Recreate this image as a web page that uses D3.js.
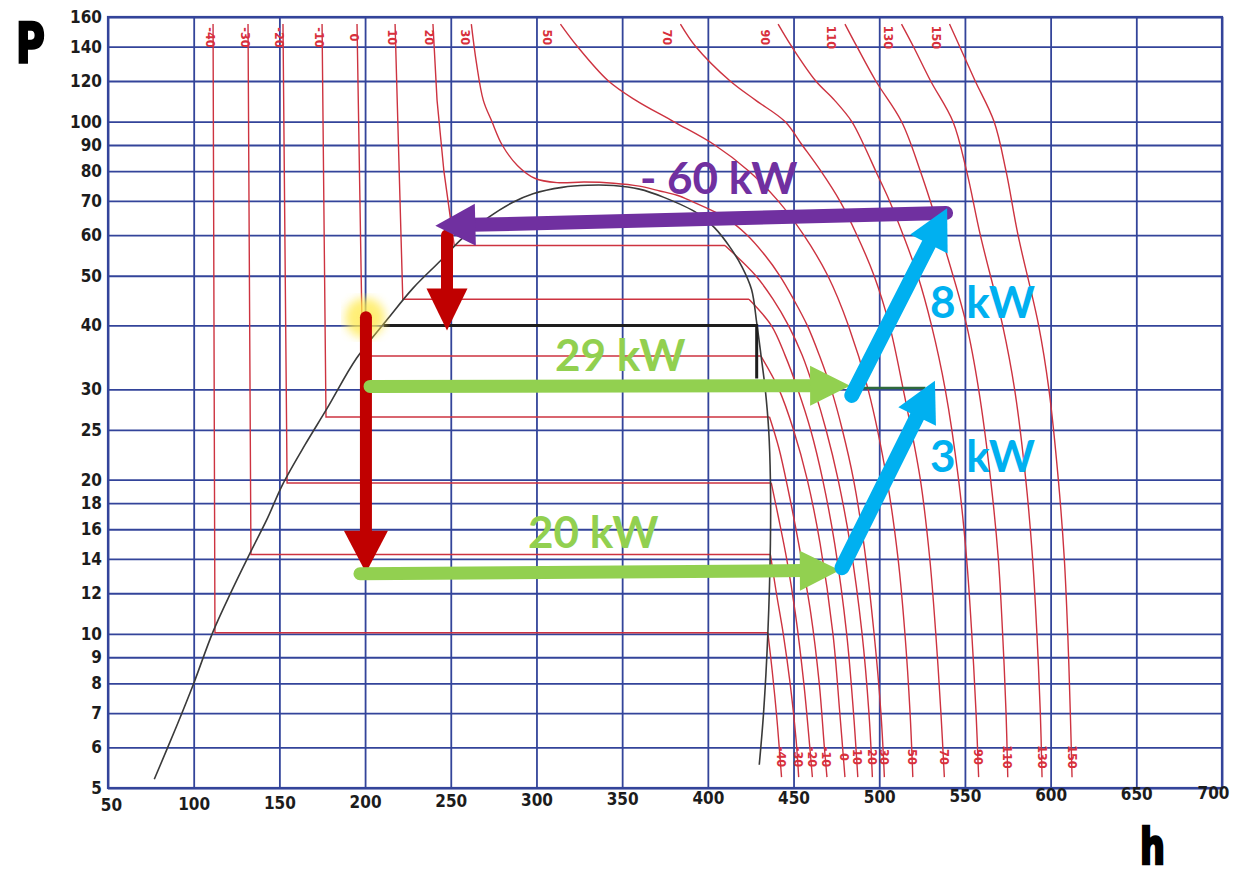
<!DOCTYPE html>
<html><head><meta charset="utf-8">
<script src="https://cdn.jsdelivr.net/npm/d3@7"></script>
<style>body{margin:0;background:#fff;} svg{display:block;}</style>
</head><body>
<svg id="chart" width="1236" height="878"></svg>
<script>
// ---------------- DATA ----------------
const hTicks = [50,100,150,200,250,300,350,400,450,500,550,600,650,700];
const pTicks = [5,6,7,8,9,10,12,14,16,18,20,25,30,40,50,60,70,80,90,100,120,140,160];
const tempLabels = ["-40","-30","-20","-10","0","10","20","30","50","70","90","110","130","150"];

// liquid + two-phase parts of isotherms [h, p]
const isoLiquid = [
  [[111.3,155],[112.4,10.05],[435,10.05]],
  [[131.7,155],[133.4,14.28],[436.5,14.28]],
  [[152.1,155],[154.5,19.7],[437,19.7]],
  [[174.9,155],[177.2,26.5],[436,26.5]],
  [[195.3,155],[198.5,34.85],[431,34.85]],
  [[217.5,155],[222,45],[424,45]],
  [[239.6,155],[242,110],[246,80],[252,57.3],[410,57.3]],
  [],[],[],[],[],[],[]
];
// superheated / supercritical parts of isotherms [h, p]
const isoVapor = [
  [[435,10.05],[437.5,8.5],[440,7],[442,5.8],[443,5.25]],
  [[436.5,14.28],[440,12],[444,10],[448,8],[451.5,6.2],[453,5.25]],
  [[437,19.7],[441,17],[446,14],[451,11],[456,8],[459.5,6],[461,5.25]],
  [[436,26.5],[441.5,23],[447,19],[453,15],[460,11],[465,8],[468,6],[469.5,5.25]],
  [[431,34.85],[441.5,30],[450,25],[458,20],[465.5,15],[473,10],[477,7],[480,5.25]],
  [[424,45],[437,40],[445,35],[452.5,30],[460,25],[467,20],[474,15],[481,10],[485,7],[487.5,5.25]],
  [[410,57.3],[428,50],[438,45],[447,40],[455,35],[462,30],[469,25],[476,20],[483,15],[490,10],[494,7],[496,5.25]],
  [[262,155],[265,130],[269,110],[274,100],[280,90],[289,82],[299,77.5],[312,76],[328,76.2],[345,75.8],[360,74.8],[372,73.2],[382,71.8],[390,70],[410,65],[423,60],[433,55],[442,50],[450,45],[458,40],[465,35],[472,30],[478.5,25],[485,20],[491,15],[497,10],[501,7],[503,5.25]],
  [[314,155],[324,140],[342,120],[358,110],[380,100],[404,90],[424,80],[441,70],[456,60],[470,50],[482,40],[493.5,30],[504.5,20],[511,14],[515,10],[518,7],[519.6,5.25]],
  [[384,155],[393,140],[413,120],[428,110],[445,100],[455,90],[466,80],[477,70],[487,60],[497,50],[506,40],[514,30],[524,20],[529.5,14],[533,10],[536,7],[538,5.25]],
  [[441,155],[449,140],[463,120],[474,110],[484,100],[491,90],[498,80],[506,70],[514,60],[522.5,50],[530.5,40],[538.5,30],[546.3,20],[551,14],[554,10],[556.5,7],[558,5.25]],
  [[480,155],[487,140],[498,120],[513,100],[524,80],[536,60],[551,40],[558,30],[565,20],[569.5,14],[572,10],[574,7],[575,5.25]],
  [[513,155],[520,140],[530,120],[543,100],[551,80],[559,60],[572,40],[579,30],[585.5,20],[589.5,14],[592,10],[594,7],[595,5.25]],
  [[541,155],[547,140],[556,120],[567,100],[574,80],[581,60],[593,40],[599,30],[604.5,20],[608,14],[610,10],[611.5,7],[612.5,5.25]]
];

// saturation dome [h, p]
const domeLine = [[77,5.2],[90,6.6],[100,8],[111.3,10.1],[122,12.1],[133,14.4],[143,16.8],[152,19.6],[165,23.4],[178,27.6],[195,34.5],[213,41.1],[228,47.3],[244,53.5],[257,59.3],[272,65],[286,69.5],[298,72.3],[315,74.4],[330,75.1],[345,75],[360,73.8],[374,71.2],[394,66.2],[404,62],[413,56.8],[420,52],[425.5,47],[428.5,40.5],[431,35],[433.5,30],[435.5,25],[436.5,20],[436.5,15],[435,10],[432.5,7],[430,5.55]];

// hand drawn black line and dark green mark
const blackMark = [[211,40],[428.5,40],[428.5,31.5]];
const greenMark = [[483,30.2],[527,30.2]];

// process arrows [from, to] in [h, p]
const arrowPurple = [[539,66.3],[241,62.6]];
const arrowRedShort = [[247.8,60],[247.8,39.1]];
const arrowRedLong = [[200.5,41.5],[200.5,13.16]];
const arrowGreenHigh = [[202.9,30.4],[483,30.5]];
const arrowGreenLow = [[197,13.1],[477,13.3]];
const arrowBlueHigh = [[484,29.2],[539.6,67.7]];
const arrowBlueLow = [[478.3,13.46],[532.5,31.2]];
const powerLabels = ["- 60 kW","29 kW","20 kW","8 kW","3 kW"];

// ---------------- CHART ----------------
const svg = d3.select("#chart");
const x = d3.scaleLinear().domain([50,700]).range([108,1222]);
const y = d3.scaleLog().domain([5,160]).range([788,17]);
const X0 = x(50), X1 = x(700), Y0 = y(5), Y1 = y(160);

svg.append("rect").attr("width",1236).attr("height",878).attr("fill","#fff");

const defs = svg.append("defs");
defs.append("filter").attr("id","blur").append("feGaussianBlur").attr("stdDeviation",5);

const gridColor = "#33449a";
// grid via axes
svg.append("g").attr("transform",`translate(0,${Y0})`)
  .call(d3.axisBottom(x).tickValues(hTicks).tickSize(-(Y0-Y1)).tickFormat(""))
  .call(g=>g.select(".domain").remove())
  .call(g=>g.selectAll("line").attr("stroke",gridColor).attr("stroke-width",1.8));
svg.append("g").attr("transform",`translate(${X0},0)`)
  .call(d3.axisLeft(y).tickValues(pTicks).tickSize(-(X1-X0)).tickFormat(""))
  .call(g=>g.select(".domain").remove())
  .call(g=>g.selectAll("line").attr("stroke",gridColor).attr("stroke-width",1.8));
svg.append("rect").attr("x",X0).attr("y",Y1).attr("width",X1-X0).attr("height",Y0-Y1)
  .attr("fill","none").attr("stroke",gridColor).attr("stroke-width",2.2);

// tick labels
const tickFont = "'DejaVu Sans Condensed','DejaVu Sans',sans-serif";
svg.append("g").attr("transform",`translate(${X0},0)`)
  .call(d3.axisLeft(y).tickValues(pTicks).tickSize(0).tickPadding(6).tickFormat(d=>String(d)))
  .call(g=>g.select(".domain").remove())
  .call(g=>g.selectAll("text").attr("font-family",tickFont).attr("font-weight","bold")
      .attr("font-size",17).attr("fill","#1c1c1c"));
svg.append("g").attr("transform",`translate(0,${Y0})`)
  .call(d3.axisBottom(x).tickValues(hTicks).tickSize(0).tickPadding(7).tickFormat(d=>String(d)))
  .call(g=>g.select(".domain").remove())
  .call(g=>g.selectAll("text").attr("font-family",tickFont).attr("font-weight","bold")
      .attr("font-size",17).attr("fill","#1c1c1c")
      .attr("transform",d=>`translate(${d===50?3:(d===700?-9:0)},${4-(x(d)-X0)*0.011})`));

// isotherms
const isoColor = "#cd3340";
const lineLin = d3.line().x(d=>x(d[0])).y(d=>y(d[1]));
const lineCurve = d3.line().x(d=>x(d[0])).y(d=>y(d[1])).curve(d3.curveCatmullRom.alpha(0.5));
const gIso = svg.append("g").attr("fill","none").attr("stroke",isoColor).attr("stroke-width",1.4);
isoLiquid.forEach(a=>{ if(a.length) gIso.append("path").attr("d",lineLin(a)); });
isoVapor.forEach(a=>{ gIso.append("path").attr("d",lineCurve(a)); });

// temperature labels
const labFont = "'DejaVu Sans Condensed','DejaVu Sans',sans-serif";
tempLabels.forEach((t,i)=>{
  const first = isoLiquid[i].length ? isoLiquid[i][0] : isoVapor[i][0];
  const off = isoLiquid[i].length ? -3 : (i===7 ? -6 : -13);
  svg.append("text").attr("transform",`translate(${x(first[0])+off},${y(146)}) rotate(90)`)
    .attr("text-anchor","middle").attr("dominant-baseline","central")
    .attr("font-family",labFont).attr("font-weight","bold").attr("font-size",12.5)
    .attr("fill","#d8303c").text(t);
  const last = isoVapor[i][isoVapor[i].length-1];
  svg.append("text").attr("transform",`translate(${x(last[0])},${y(5.75)}) rotate(90)`)
    .attr("text-anchor","middle").attr("dominant-baseline","central")
    .attr("font-family",labFont).attr("font-weight","bold").attr("font-size",12.5)
    .attr("fill","#d8303c").text(t);
});

// dome
svg.append("path").attr("d",lineCurve(domeLine)).attr("fill","none")
  .attr("stroke","#3a3a3a").attr("stroke-width",1.6);

// hand drawn marks
svg.append("path").attr("d",lineLin(blackMark)).attr("fill","none")
  .attr("stroke","#1e1e1e").attr("stroke-width",3);
svg.append("path").attr("d",lineLin(greenMark)).attr("fill","none")
  .attr("stroke","#2f6a3c").attr("stroke-width",2.5);

// yellow highlight
svg.append("circle").attr("cx",x(200)).attr("cy",y(41.4)).attr("r",20)
  .attr("fill","#ffe94a").attr("opacity",0.75).attr("filter","url(#blur)");

// arrows
function arrow(a,color,sw,hl,hw){
  const x1=x(a[0][0]), y1=y(a[0][1]), x2=x(a[1][0]), y2=y(a[1][1]);
  const dx=x2-x1, dy=y2-y1, L=Math.hypot(dx,dy), ux=dx/L, uy=dy/L;
  const bx=x2-ux*hl, by=y2-uy*hl;
  svg.append("line").attr("x1",x1).attr("y1",y1).attr("x2",bx+ux*4).attr("y2",by+uy*4)
    .attr("stroke",color).attr("stroke-width",sw).attr("stroke-linecap","round");
  svg.append("path").attr("d",`M${x2},${y2}L${bx-uy*hw/2},${by+ux*hw/2}L${bx+uy*hw/2},${by-ux*hw/2}Z`)
    .attr("fill",color);
}
const RED="#c00000", PURPLE="#7030a0", GREEN="#92d050", BLUE="#00b0f0";
arrow(arrowRedShort,RED,12,42,41);
arrow(arrowRedLong,RED,12,42,44);
arrow(arrowPurple,PURPLE,14,40,42);
arrow(arrowGreenHigh,GREEN,13,40,40);
arrow(arrowGreenLow,GREEN,13,40,40);
arrow(arrowBlueHigh,BLUE,15,40,42);
arrow(arrowBlueLow,BLUE,15,40,42);

// power labels
const kwFont = "Lato,'Open Sans',sans-serif";
const kwPos = [[640,194,PURPLE],[555,371,GREEN],[528,548,GREEN],[930,318,BLUE],[930,472,BLUE]];
powerLabels.forEach((t,i)=>{
  svg.append("text").attr("x",kwPos[i][0]).attr("y",kwPos[i][1])
    .attr("font-family",kwFont).attr("font-weight","bold").attr("font-size",44)
    .attr("fill",kwPos[i][2]).text(t);
});

// axis letters
const bigFont = "'Liberation Sans Narrow','DejaVu Sans Condensed',sans-serif";
svg.append("text").attr("transform","translate(16,62) scale(0.78,1)").attr("font-family",bigFont).attr("font-weight","bold")
  .attr("font-size",56).attr("fill","#000").attr("stroke","#000").attr("stroke-width",2.5).text("P");
svg.append("text").attr("transform","translate(1140,864) scale(0.78,1)").attr("font-family",bigFont).attr("font-weight","bold")
  .attr("font-size",50).attr("fill","#000").attr("stroke","#000").attr("stroke-width",2.5).text("h");
</script>
</body></html>
